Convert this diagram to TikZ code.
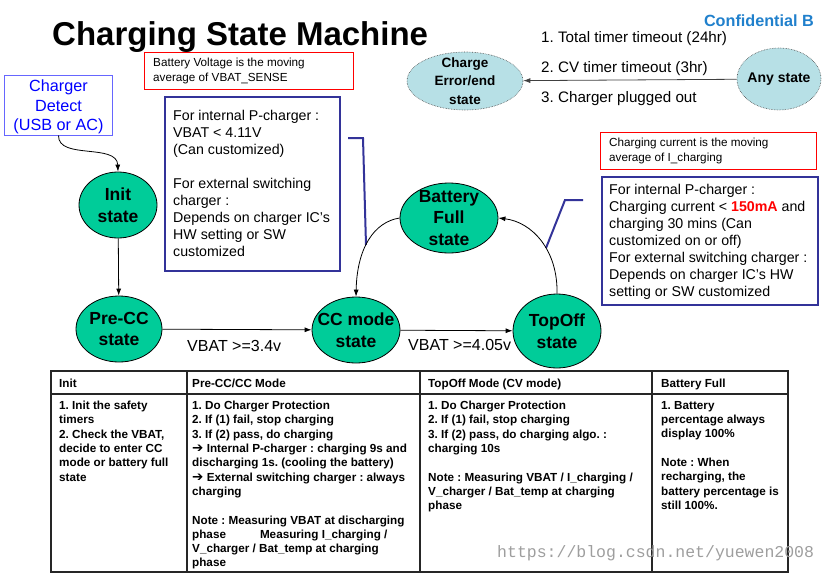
\documentclass[tikz,border=0pt]{standalone}
\usepackage{fontspec}
\setmainfont{Liberation Sans}
\newfontfamily\dejavu{DejaVu Sans}
\newfontfamily\urlfont{Liberation Mono}
\usetikzlibrary{arrows.meta,shapes.geometric}
\definecolor{stgreen}{RGB}{0,204,153}
\definecolor{errblue}{RGB}{183,224,230}
\definecolor{boxblue}{RGB}{51,51,153}
\definecolor{detblue}{RGB}{102,102,255}
\definecolor{dettext}{RGB}{0,0,255}
\definecolor{confblue}{RGB}{32,128,204}
\frenchspacing
\begin{document}
\begin{tikzpicture}[x=1pt,y=-1pt,
  stateshape/.style={draw=black, line width=0.8pt, fill=stgreen, ellipse, inner sep=0pt},
  statetext/.style={align=center, inner sep=0pt, font=\fontsize{17.5}{21.5}\selectfont\bfseries},
  errshape/.style={draw=black!70, densely dotted, line width=0.6pt, fill=errblue, ellipse, inner sep=0pt},
  errtext/.style={align=center, inner sep=0pt, font=\fontsize{13.5}{18.5}\selectfont\bfseries},
  arr/.style={-{Latex[length=7pt,width=5pt]}, line width=0.8pt},
  redbox/.style={draw=red, line width=0.8pt, inner sep=0pt, anchor=north west},
  bluebox/.style={draw=boxblue, line width=2pt, inner sep=0pt, anchor=north west},
  notetext/.style={align=left, inner sep=0pt, anchor=west, font=\fontsize{11.7}{14.3}\selectfont},
  boxtext/.style={align=left, inner sep=0pt, anchor=north west, font=\fontsize{14.2}{17}\selectfont},
  lbl/.style={anchor=base west, inner sep=0pt, font=\fontsize{15.2}{18}\selectfont},
  edgelbl/.style={anchor=base west, inner sep=0pt, font=\fontsize{16}{19}\selectfont},
  callout/.style={draw=boxblue, line width=2pt},
  tabhead/.style={anchor=base west, inner sep=0pt, font=\fontsize{11.7}{14.3}\selectfont\bfseries},
  tabbody/.style={align=left, anchor=north west, inner sep=0pt, font=\fontsize{11.7}{14.3}\selectfont\bfseries},
]
\useasboundingbox (0,0) rectangle (827,573);

% title
\node[anchor=base west, inner sep=0pt, font=\fontsize{33}{40}\selectfont\bfseries] (title) at (52,45) {Charging State Machine};
\node[anchor=base east, inner sep=0pt, text=confblue, font=\fontsize{16.2}{19}\selectfont\bfseries] (conf) at (814,26) {Confidential B};

% any state -> error
\node[errshape, minimum width=116, minimum height=58] (err) at (465,81) {};
\node[errtext] (errt) at (err) {Charge\\Error/end\\state};
\node[errshape, minimum width=84, minimum height=62] (any) at (779,79) {};
\node[errtext, font=\fontsize{14}{18}\selectfont\bfseries] (anyt) at (any) {Any state};
\draw[arr, draw=black!75] (any) -- (err);
\node[lbl] (l1) at (541,42) {1. Total timer timeout (24hr)};
\node[lbl] (l2) at (541,72) {2. CV timer timeout (3hr)};
\node[lbl] (l3) at (541,102) {3. Charger plugged out};

% charger detect
\node[draw=detblue, line width=1pt, minimum width=108, minimum height=60, inner sep=0pt] (det) at (58.5,105) {};
\node[text=dettext, align=center, inner sep=0pt, font=\fontsize{16.2}{19.5}\selectfont] (dett) at (58.5,107) {Charger\\Detect\\(USB or AC)};

% notes
\node[redbox, minimum width=209, minimum height=37] (n1) at (144,52) {};
\node[notetext] (n1t) at (153,71) {Battery Voltage is the moving\\average of VBAT\_SENSE};
\node[bluebox, minimum width=175, minimum height=174] (c1) at (164,96) {};
\node[boxtext] (c1t) at (173,110) {For internal P-charger :\\VBAT < 4.11V\\(Can customized)\\\mbox{}\\For external switching\\charger :\\Depends on charger IC’s\\HW setting or SW\\customized};
\coordinate (c1a) at (348,138);
\coordinate (c1b) at (363,138);
\coordinate (c1c) at (366,245);
\draw[callout] (c1a) -- (c1b) -- (c1c);

\node[redbox, minimum width=216, minimum height=37] (n2) at (600,132) {};
\node[notetext] (n2t) at (609,151) {Charging current is the moving\\average of I\_charging};
\node[bluebox, minimum width=216, minimum height=128] (c2) at (601,176) {};
\node[boxtext] (c2t) at (609,184) {For internal P-charger :\\Charging current < \textcolor{red}{\bfseries 150mA} and\\charging 30 mins (Can\\customized on or off)\\For external switching charger :\\Depends on charger IC’s HW\\setting or SW customized};
\coordinate (c2a) at (583,200);
\coordinate (c2b) at (565,200);
\coordinate (c2c) at (546,248);
\draw[callout] (c2a) -- (c2b) -- (c2c);

% states
\node[stateshape, minimum width=78, minimum height=66] (init) at (118,205) {};
\node[statetext] (initt) at (init) {Init\\state};
\node[stateshape, minimum width=86, minimum height=66] (pre) at (119,329) {};
\node[statetext] (pret) at (pre) {Pre-CC\\state};
\node[stateshape, minimum width=88, minimum height=66] (cc) at (356,330) {};
\node[statetext] (cct) at (cc) {CC mode\\state};
\node[stateshape, minimum width=98, minimum height=70] (full) at (449,218) {};
\node[statetext] (fullt) at (full) {Battery\\Full\\state};
\node[stateshape, minimum width=88, minimum height=74] (top) at (557,331) {};
\node[statetext] (topt) at (top) {TopOff\\state};

% transitions
\draw[arr] (det.south) .. controls (58,160) and (117,143) .. (init.north);
\draw[arr] (init) -- (pre);
\draw[arr] (pre) -- (cc);
\draw[arr] (cc) -- (top);
\draw[arr] (top.north) .. controls (558,250) and (532,222) .. (full.east);
\draw[arr] (full.west) .. controls (374,222) and (357,248) .. (cc.north);
\node[edgelbl] (e1) at (187,351) {VBAT >=3.4v};
\node[edgelbl] (e2) at (408,350) {VBAT >=4.05v};

% table
\draw[line width=1.1pt, black!85] (51,371) rectangle (788,572);
\draw[line width=1.1pt, black!85] (51,394) -- (788,394);
\draw[line width=1.1pt, black!85] (187,371) -- (187,572);
\draw[line width=1.1pt, black!85] (420,371) -- (420,572);
\draw[line width=1.1pt, black!85] (652,371) -- (652,572);
\node[tabhead] (h1) at (59,387) {Init};
\node[tabhead] (h2) at (192,387) {Pre-CC/CC Mode};
\node[tabhead] (h3) at (428,387) {TopOff Mode (CV mode)};
\node[tabhead] (h4) at (661,387) {Battery Full};
\node[tabbody] (b1) at (59,401) {1. Init the safety\\timers\\2. Check the VBAT,\\decide to enter CC\\mode or battery full\\state};
\node[tabbody] (b2) at (192,401) {1. Do Charger Protection\\2. If (1) fail, stop charging\\3. If (2) pass, do charging\\{\dejavu\bfseries\fontsize{13.5}{14.3}\selectfont ➔} Internal P-charger : charging 9s and\\discharging 1s. (cooling the battery)\\{\dejavu\bfseries\fontsize{13.5}{14.3}\selectfont ➔} External switching charger : always\\charging\\\mbox{}\\Note : Measuring VBAT at discharging\\phase\hspace{34pt}Measuring I\_charging /\\V\_charger / Bat\_temp at charging\\phase};
\node[tabbody] (b3) at (428,401) {1. Do Charger Protection\\2. If (1) fail, stop charging\\3. If (2) pass, do charging algo. :\\charging 10s\\\mbox{}\\Note : Measuring VBAT / I\_charging /\\V\_charger / Bat\_temp at charging\\phase};
\node[tabbody] (b4) at (661,401) {1. Battery\\percentage always\\display 100\%\\\mbox{}\\Note : When\\recharging, the\\battery percentage is\\still 100\%.};

% watermark url
\node[anchor=base west, inner sep=0pt, text=black!38, font=\urlfont\fontsize{16.5}{18}\selectfont] (url) at (497,557) {https://blog.csdn.net/yuewen2008};
\end{tikzpicture}
\end{document}
